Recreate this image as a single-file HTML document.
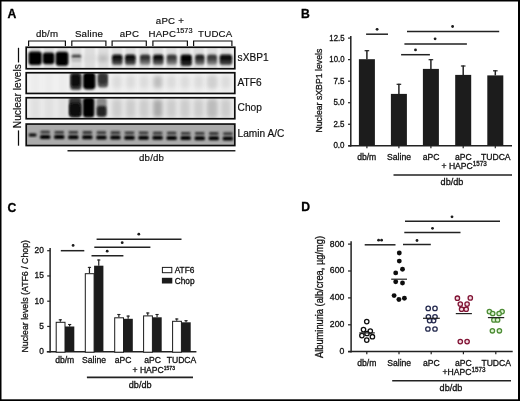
<!DOCTYPE html>
<html><head><meta charset="utf-8"><style>
html,body{margin:0;padding:0;background:#fff;}
svg{display:block;}
text{font-family:"Liberation Sans",sans-serif;stroke:#111;stroke-width:0.3px;}
</style></head><body>
<svg width="520" height="401" viewBox="0 0 520 401" font-family="Liberation Sans, sans-serif">
<rect width="520" height="401" fill="#fff"/>
<g filter="url(#soft)">
<rect width="520" height="401" fill="#fff"/>
<rect x="0" y="0" width="520" height="1.5" fill="#000" stroke="none" stroke-width="0" />
<rect x="0" y="0" width="1.5" height="401" fill="#000" stroke="none" stroke-width="0" />
<rect x="518" y="0" width="2" height="401" fill="#000" stroke="none" stroke-width="0" />
<rect x="0" y="399.3" width="520" height="1.7" fill="#000" stroke="none" stroke-width="0" />
<text x="7.6" y="17.8" font-size="12.2" text-anchor="start" font-weight="bold" fill="#000" style="stroke-width:0.3px;stroke:#000">A</text>
<text x="301.0" y="17.8" font-size="12.2" text-anchor="start" font-weight="bold" fill="#000" style="stroke-width:0.3px;stroke:#000">B</text>
<text x="7.5" y="211.5" font-size="12.2" text-anchor="start" font-weight="bold" fill="#000" style="stroke-width:0.3px;stroke:#000">C</text>
<text x="301.3" y="211.2" font-size="12.2" text-anchor="start" font-weight="bold" fill="#000" style="stroke-width:0.3px;stroke:#000">D</text>
<defs>
<filter id="b1" x="-50%" y="-50%" width="200%" height="200%"><feGaussianBlur stdDeviation="1.3"/></filter>
<filter id="b2" x="-50%" y="-50%" width="200%" height="200%"><feGaussianBlur stdDeviation="0.8"/></filter>
<filter id="b4" x="-50%" y="-50%" width="200%" height="200%"><feGaussianBlur stdDeviation="0.6"/></filter>
<filter id="b3" x="-50%" y="-50%" width="200%" height="200%"><feGaussianBlur stdDeviation="2"/></filter>
<filter id="soft" x="0" y="0" width="100%" height="100%"><feGaussianBlur stdDeviation="0.3"/></filter>
<clipPath id="c0"><rect x="26.2" y="47.25" width="208.6" height="21.5"/></clipPath>
<clipPath id="c1"><rect x="26.2" y="72.75" width="208.6" height="20.700000000000003"/></clipPath>
<clipPath id="c2"><rect x="26.2" y="97.75" width="208.6" height="21.0"/></clipPath>
<clipPath id="c3"><rect x="26.2" y="124.05" width="208.6" height="21.500000000000014"/></clipPath>
</defs>
<rect x="26.2" y="47.25" width="208.6" height="21.5" fill="#f1f1f1" stroke="none" stroke-width="0" />
<g clip-path="url(#c0)">
<rect x="30.2" y="47" width="10.400000000000002" height="22" rx="0" fill="#dddddd" filter="url(#b1)"/>
<rect x="43.8" y="47" width="10.400000000000006" height="22" rx="0" fill="#dddddd" filter="url(#b1)"/>
<rect x="57.39999999999999" y="47" width="10.400000000000006" height="22" rx="0" fill="#dddddd" filter="url(#b1)"/>
<rect x="70.99999999999999" y="47" width="10.400000000000006" height="22" rx="0" fill="#dddddd" filter="url(#b1)"/>
<rect x="84.6" y="47" width="10.400000000000006" height="22" rx="0" fill="#dddddd" filter="url(#b1)"/>
<rect x="98.2" y="47" width="10.400000000000006" height="22" rx="0" fill="#dddddd" filter="url(#b1)"/>
<rect x="111.8" y="47" width="10.400000000000006" height="22" rx="0" fill="#dddddd" filter="url(#b1)"/>
<rect x="125.39999999999999" y="47" width="10.399999999999991" height="22" rx="0" fill="#dddddd" filter="url(#b1)"/>
<rect x="139.0" y="47" width="10.399999999999977" height="22" rx="0" fill="#dddddd" filter="url(#b1)"/>
<rect x="152.6" y="47" width="10.399999999999977" height="22" rx="0" fill="#dddddd" filter="url(#b1)"/>
<rect x="166.20000000000002" y="47" width="10.399999999999977" height="22" rx="0" fill="#dddddd" filter="url(#b1)"/>
<rect x="179.8" y="47" width="10.399999999999977" height="22" rx="0" fill="#dddddd" filter="url(#b1)"/>
<rect x="193.4" y="47" width="10.399999999999977" height="22" rx="0" fill="#dddddd" filter="url(#b1)"/>
<rect x="207.0" y="47" width="10.399999999999977" height="22" rx="0" fill="#dddddd" filter="url(#b1)"/>
<rect x="220.60000000000002" y="47" width="10.399999999999977" height="22" rx="0" fill="#dddddd" filter="url(#b1)"/>
<rect x="28.5" y="51.6" width="13.299999999999997" height="13.399999999999999" rx="3" fill="#000" filter="url(#b2)"/>
<rect x="42.7" y="52.6" width="11.699999999999996" height="11.600000000000001" rx="3" fill="#000" filter="url(#b2)"/>
<rect x="55.6" y="51.8" width="12.800000000000004" height="14.0" rx="3" fill="#000" filter="url(#b2)"/>
<rect x="71.6" y="54.6" width="9.600000000000009" height="3.6999999999999957" rx="1.5" fill="#4a4a4a" filter="url(#b2)"/>
<rect x="71.6" y="58.3" width="9.600000000000009" height="3.700000000000003" rx="1.5" fill="#bdbdbd" filter="url(#b2)"/>
<rect x="84.5" y="55.0" width="10.0" height="7.0" rx="1.5" fill="#d8d8d8" filter="url(#b3)"/>
<rect x="98.4" y="55.0" width="9.199999999999989" height="7.0" rx="1.5" fill="#bcbcbc" filter="url(#b3)"/>
<linearGradient id="g0" x1="0" y1="0" x2="0" y2="1"><stop offset="0" stop-color="#0a0a0a"/><stop offset="0.4" stop-color="#0a0a0a"/><stop offset="1" stop-color="#666"/></linearGradient>
<rect x="112.0" y="54.4" width="10.5" height="10.600000000000001" rx="2.5" fill="url(#g0)" filter="url(#b2)"/>
<linearGradient id="g1" x1="0" y1="0" x2="0" y2="1"><stop offset="0" stop-color="#0a0a0a"/><stop offset="0.4" stop-color="#0a0a0a"/><stop offset="1" stop-color="#666"/></linearGradient>
<rect x="125.0" y="54.4" width="10.599999999999994" height="10.600000000000001" rx="2.5" fill="url(#g1)" filter="url(#b2)"/>
<linearGradient id="g2" x1="0" y1="0" x2="0" y2="1"><stop offset="0" stop-color="#333"/><stop offset="0.4" stop-color="#333"/><stop offset="1" stop-color="#999"/></linearGradient>
<rect x="140.0" y="54.4" width="10.300000000000011" height="10.600000000000001" rx="2.5" fill="url(#g2)" filter="url(#b2)"/>
<linearGradient id="g3" x1="0" y1="0" x2="0" y2="1"><stop offset="0" stop-color="#111"/><stop offset="0.4" stop-color="#111"/><stop offset="1" stop-color="#777"/></linearGradient>
<rect x="153.0" y="54.4" width="10.5" height="10.600000000000001" rx="2.5" fill="url(#g3)" filter="url(#b2)"/>
<linearGradient id="g4" x1="0" y1="0" x2="0" y2="1"><stop offset="0" stop-color="#3a3a3a"/><stop offset="0.4" stop-color="#3a3a3a"/><stop offset="1" stop-color="#9a9a9a"/></linearGradient>
<rect x="166.7" y="54.4" width="10.100000000000023" height="10.600000000000001" rx="2.5" fill="url(#g4)" filter="url(#b2)"/>
<linearGradient id="g5" x1="0" y1="0" x2="0" y2="1"><stop offset="0" stop-color="#000"/><stop offset="0.4" stop-color="#000"/><stop offset="1" stop-color="#333"/></linearGradient>
<rect x="180.6" y="54.4" width="11.300000000000011" height="11.600000000000001" rx="2.5" fill="url(#g5)" filter="url(#b2)"/>
<linearGradient id="g6" x1="0" y1="0" x2="0" y2="1"><stop offset="0" stop-color="#222"/><stop offset="0.4" stop-color="#222"/><stop offset="1" stop-color="#888"/></linearGradient>
<rect x="195.2" y="54.4" width="9.300000000000011" height="10.600000000000001" rx="2.5" fill="url(#g6)" filter="url(#b2)"/>
<linearGradient id="g7" x1="0" y1="0" x2="0" y2="1"><stop offset="0" stop-color="#3c3c3c"/><stop offset="0.4" stop-color="#3c3c3c"/><stop offset="1" stop-color="#999"/></linearGradient>
<rect x="207.0" y="54.4" width="10.0" height="10.600000000000001" rx="2.5" fill="url(#g7)" filter="url(#b2)"/>
<linearGradient id="g8" x1="0" y1="0" x2="0" y2="1"><stop offset="0" stop-color="#0a0a0a"/><stop offset="0.4" stop-color="#0a0a0a"/><stop offset="1" stop-color="#555"/></linearGradient>
<rect x="219.6" y="54.4" width="12.599999999999994" height="10.600000000000001" rx="2.5" fill="url(#g8)" filter="url(#b2)"/>
</g>
<rect x="26.2" y="47.25" width="208.6" height="21.5" fill="none" stroke="#111" stroke-width="1.7"/>
<rect x="26.2" y="72.75" width="208.6" height="20.700000000000003" fill="#f3f3f3" stroke="none" stroke-width="0" />
<g clip-path="url(#c1)">
<rect x="30.4" y="72" width="10.0" height="22" rx="0" fill="#ececec" filter="url(#b3)"/>
<rect x="44.0" y="72" width="10.0" height="22" rx="0" fill="#ececec" filter="url(#b3)"/>
<rect x="57.599999999999994" y="72" width="10.0" height="22" rx="0" fill="#ececec" filter="url(#b3)"/>
<rect x="71.19999999999999" y="72" width="10.0" height="22" rx="0" fill="#ececec" filter="url(#b3)"/>
<rect x="84.8" y="72" width="10.0" height="22" rx="0" fill="#ececec" filter="url(#b3)"/>
<rect x="98.4" y="72" width="10.0" height="22" rx="0" fill="#ececec" filter="url(#b3)"/>
<rect x="112.0" y="72" width="10.0" height="22" rx="0" fill="#ececec" filter="url(#b3)"/>
<rect x="125.6" y="72" width="10.0" height="22" rx="0" fill="#ececec" filter="url(#b3)"/>
<rect x="139.2" y="72" width="10.0" height="22" rx="0" fill="#ececec" filter="url(#b3)"/>
<rect x="152.79999999999998" y="72" width="10.0" height="22" rx="0" fill="#ececec" filter="url(#b3)"/>
<rect x="166.4" y="72" width="10.0" height="22" rx="0" fill="#ececec" filter="url(#b3)"/>
<rect x="180.0" y="72" width="10.0" height="22" rx="0" fill="#ececec" filter="url(#b3)"/>
<rect x="193.6" y="72" width="10.0" height="22" rx="0" fill="#ececec" filter="url(#b3)"/>
<rect x="207.2" y="72" width="10.0" height="22" rx="0" fill="#ececec" filter="url(#b3)"/>
<rect x="220.8" y="72" width="10.0" height="22" rx="0" fill="#ececec" filter="url(#b3)"/>
<rect x="70.2" y="72.5" width="11.299999999999997" height="17.5" rx="3" fill="#444" filter="url(#b1)"/>
<rect x="71.0" y="74.0" width="9.5" height="13.0" rx="3" fill="#111" filter="url(#b1)"/>
<rect x="83.0" y="72.5" width="12.5" height="17.099999999999994" rx="4" fill="#000" filter="url(#b1)"/>
<rect x="97.7" y="72.5" width="10.299999999999997" height="15.0" rx="3" fill="#555" filter="url(#b1)"/>
<rect x="98.5" y="74.0" width="8.5" height="10.0" rx="3" fill="#333" filter="url(#b1)"/>
<rect x="112.5" y="76" width="9.0" height="12" rx="2" fill="#dcdcdc" filter="url(#b3)"/>
<rect x="126.1" y="76" width="9.0" height="12" rx="2" fill="#dcdcdc" filter="url(#b3)"/>
<rect x="139.7" y="76" width="9.0" height="12" rx="2" fill="#dcdcdc" filter="url(#b3)"/>
<rect x="166.9" y="76" width="9.0" height="12" rx="2" fill="#dcdcdc" filter="url(#b3)"/>
<rect x="180.5" y="76" width="9.0" height="12" rx="2" fill="#dcdcdc" filter="url(#b3)"/>
<rect x="194.1" y="76" width="9.0" height="12" rx="2" fill="#dcdcdc" filter="url(#b3)"/>
<rect x="207.7" y="76" width="9.0" height="12" rx="2" fill="#dcdcdc" filter="url(#b3)"/>
<rect x="221.3" y="76" width="9.0" height="12" rx="2" fill="#dcdcdc" filter="url(#b3)"/>
<rect x="153.29999999999998" y="76" width="9.0" height="12" rx="2" fill="#bdbdbd" filter="url(#b3)"/>
<rect x="207.7" y="76" width="9.0" height="12" rx="2" fill="#d0d0d0" filter="url(#b3)"/>
</g>
<rect x="26.2" y="72.75" width="208.6" height="20.700000000000003" fill="none" stroke="#111" stroke-width="1.7"/>
<rect x="26.2" y="97.75" width="208.6" height="21.0" fill="#eeeeee" stroke="none" stroke-width="0" />
<g clip-path="url(#c2)">
<rect x="30.4" y="97" width="10.0" height="22" rx="0" fill="#e0e0e0" filter="url(#b3)"/>
<rect x="44.0" y="97" width="10.0" height="22" rx="0" fill="#e0e0e0" filter="url(#b3)"/>
<rect x="57.599999999999994" y="97" width="10.0" height="22" rx="0" fill="#e0e0e0" filter="url(#b3)"/>
<rect x="71.19999999999999" y="97" width="10.0" height="22" rx="0" fill="#e0e0e0" filter="url(#b3)"/>
<rect x="84.8" y="97" width="10.0" height="22" rx="0" fill="#e0e0e0" filter="url(#b3)"/>
<rect x="98.4" y="97" width="10.0" height="22" rx="0" fill="#e0e0e0" filter="url(#b3)"/>
<rect x="112.0" y="97" width="10.0" height="22" rx="0" fill="#e0e0e0" filter="url(#b3)"/>
<rect x="125.6" y="97" width="10.0" height="22" rx="0" fill="#e0e0e0" filter="url(#b3)"/>
<rect x="139.2" y="97" width="10.0" height="22" rx="0" fill="#e0e0e0" filter="url(#b3)"/>
<rect x="152.79999999999998" y="97" width="10.0" height="22" rx="0" fill="#e0e0e0" filter="url(#b3)"/>
<rect x="166.4" y="97" width="10.0" height="22" rx="0" fill="#e0e0e0" filter="url(#b3)"/>
<rect x="180.0" y="97" width="10.0" height="22" rx="0" fill="#e0e0e0" filter="url(#b3)"/>
<rect x="193.6" y="97" width="10.0" height="22" rx="0" fill="#e0e0e0" filter="url(#b3)"/>
<rect x="207.2" y="97" width="10.0" height="22" rx="0" fill="#e0e0e0" filter="url(#b3)"/>
<rect x="220.8" y="97" width="10.0" height="22" rx="0" fill="#e0e0e0" filter="url(#b3)"/>
<rect x="69.0" y="97.5" width="12.5" height="19.5" rx="3" fill="#333" filter="url(#b1)"/>
<rect x="69.5" y="103.0" width="11.5" height="13.5" rx="3" fill="#080808" filter="url(#b1)"/>
<rect x="82.8" y="97.5" width="11.600000000000009" height="20.0" rx="3.5" fill="#000" filter="url(#b1)"/>
<rect x="96.4" y="98.0" width="10.299999999999997" height="19.0" rx="3" fill="#8a8a8a" filter="url(#b1)"/>
<rect x="96.8" y="106.0" width="9.5" height="10.5" rx="3" fill="#222" filter="url(#b1)"/>
<rect x="112.5" y="100" width="9.0" height="17" rx="2" fill="#cccccc" filter="url(#b3)"/>
<rect x="126.1" y="100" width="9.0" height="17" rx="2" fill="#cccccc" filter="url(#b3)"/>
<rect x="139.7" y="100" width="9.0" height="17" rx="2" fill="#cccccc" filter="url(#b3)"/>
<rect x="166.9" y="100" width="9.0" height="17" rx="2" fill="#cccccc" filter="url(#b3)"/>
<rect x="180.5" y="100" width="9.0" height="17" rx="2" fill="#cccccc" filter="url(#b3)"/>
<rect x="194.1" y="100" width="9.0" height="17" rx="2" fill="#cccccc" filter="url(#b3)"/>
<rect x="207.7" y="100" width="9.0" height="17" rx="2" fill="#cccccc" filter="url(#b3)"/>
<rect x="221.3" y="100" width="9.0" height="17" rx="2" fill="#cccccc" filter="url(#b3)"/>
<rect x="153.29999999999998" y="100" width="9.0" height="17" rx="2" fill="#aaaaaa" filter="url(#b3)"/>
<rect x="207.7" y="100" width="9.0" height="17" rx="2" fill="#bbbbbb" filter="url(#b3)"/>
</g>
<rect x="26.2" y="97.75" width="208.6" height="21.0" fill="none" stroke="#111" stroke-width="1.7"/>
<rect x="26.2" y="124.05" width="208.6" height="21.500000000000014" fill="#ababab" stroke="none" stroke-width="0" />
<g clip-path="url(#c3)">
<rect x="28.8" y="133.4" width="7.599999999999998" height="3.0" rx="1" fill="#000" filter="url(#b2)"/>
<rect x="40.400000000000006" y="130.8" width="9.599999999999994" height="2.8000000000000114" rx="1" fill="#333" filter="url(#b2)"/>
<rect x="40.0" y="135.0" width="10.400000000000006" height="4.0" rx="1.5" fill="#000" filter="url(#b2)"/>
<rect x="54.45" y="130.90769230769232" width="9.599999999999994" height="2.8000000000000114" rx="1" fill="#333" filter="url(#b2)"/>
<rect x="54.05" y="135.1076923076923" width="10.400000000000006" height="4.0" rx="1.5" fill="#000" filter="url(#b2)"/>
<rect x="68.50000000000001" y="131.01538461538462" width="9.599999999999994" height="2.8000000000000114" rx="1" fill="#333" filter="url(#b2)"/>
<rect x="68.10000000000001" y="135.2153846153846" width="10.400000000000006" height="4.0" rx="1.5" fill="#000" filter="url(#b2)"/>
<rect x="82.55000000000001" y="131.12307692307692" width="9.599999999999994" height="2.8000000000000114" rx="1" fill="#333" filter="url(#b2)"/>
<rect x="82.15" y="135.3230769230769" width="10.400000000000006" height="4.0" rx="1.5" fill="#000" filter="url(#b2)"/>
<rect x="96.60000000000001" y="131.23076923076925" width="9.599999999999994" height="2.8000000000000114" rx="1" fill="#333" filter="url(#b2)"/>
<rect x="96.2" y="135.43076923076924" width="10.400000000000006" height="4.0" rx="1.5" fill="#000" filter="url(#b2)"/>
<rect x="110.65" y="131.33846153846156" width="9.599999999999994" height="2.8000000000000114" rx="1" fill="#333" filter="url(#b2)"/>
<rect x="110.25" y="135.53846153846155" width="10.400000000000006" height="4.0" rx="1.5" fill="#000" filter="url(#b2)"/>
<rect x="124.7" y="131.44615384615386" width="9.600000000000009" height="2.8000000000000114" rx="1" fill="#333" filter="url(#b2)"/>
<rect x="124.3" y="135.64615384615385" width="10.399999999999991" height="4.0" rx="1.5" fill="#000" filter="url(#b2)"/>
<rect x="138.75" y="131.55384615384617" width="9.600000000000023" height="2.8000000000000114" rx="1" fill="#333" filter="url(#b2)"/>
<rect x="138.35000000000002" y="135.75384615384615" width="10.399999999999977" height="4.0" rx="1.5" fill="#000" filter="url(#b2)"/>
<rect x="152.8" y="131.66153846153847" width="9.600000000000023" height="2.8000000000000114" rx="1" fill="#333" filter="url(#b2)"/>
<rect x="152.40000000000003" y="135.86153846153846" width="10.399999999999977" height="4.0" rx="1.5" fill="#000" filter="url(#b2)"/>
<rect x="166.85" y="131.76923076923077" width="9.600000000000023" height="2.8000000000000114" rx="1" fill="#333" filter="url(#b2)"/>
<rect x="166.45000000000002" y="135.96923076923076" width="10.399999999999977" height="4.0" rx="1.5" fill="#000" filter="url(#b2)"/>
<rect x="180.89999999999998" y="131.87692307692308" width="9.600000000000023" height="2.8000000000000114" rx="1" fill="#333" filter="url(#b2)"/>
<rect x="180.5" y="136.07692307692307" width="10.399999999999977" height="4.0" rx="1.5" fill="#000" filter="url(#b2)"/>
<rect x="194.95" y="131.9846153846154" width="9.600000000000023" height="2.8000000000000114" rx="1" fill="#333" filter="url(#b2)"/>
<rect x="194.55" y="136.1846153846154" width="10.399999999999977" height="4.0" rx="1.5" fill="#000" filter="url(#b2)"/>
<rect x="209.0" y="132.0923076923077" width="9.600000000000023" height="2.8000000000000114" rx="1" fill="#333" filter="url(#b2)"/>
<rect x="208.60000000000002" y="136.2923076923077" width="10.399999999999977" height="4.0" rx="1.5" fill="#000" filter="url(#b2)"/>
<rect x="223.05" y="132.20000000000002" width="9.600000000000023" height="2.8000000000000114" rx="1" fill="#333" filter="url(#b2)"/>
<rect x="222.65000000000003" y="136.4" width="10.399999999999977" height="4.0" rx="1.5" fill="#000" filter="url(#b2)"/>
</g>
<rect x="26.2" y="124.05" width="208.6" height="21.500000000000014" fill="none" stroke="#111" stroke-width="1.7"/>
<polyline points="28.6,46 28.6,41 65.4,41 65.4,46" fill="none" stroke="#111" stroke-width="1.2"/>
<polyline points="71.8,46 71.8,41 105.9,41 105.9,46" fill="none" stroke="#111" stroke-width="1.2"/>
<polyline points="112.1,46 112.1,41 146.3,41 146.3,46" fill="none" stroke="#111" stroke-width="1.2"/>
<polyline points="152.9,46 152.9,41 187.4,41 187.4,46" fill="none" stroke="#111" stroke-width="1.2"/>
<polyline points="193.6,46 193.6,41 231.9,41 231.9,46" fill="none" stroke="#111" stroke-width="1.2"/>
<text x="47.1" y="36.5" font-size="9.7" text-anchor="middle" font-weight="normal" fill="#111" letter-spacing="0.2" style="stroke-width:0.18px">db/m</text>
<text x="89.0" y="36.5" font-size="9.7" text-anchor="middle" font-weight="normal" fill="#111" letter-spacing="0.2" style="stroke-width:0.18px">Saline</text>
<text x="129.5" y="36.5" font-size="9.7" text-anchor="middle" font-weight="normal" fill="#111" letter-spacing="0.2" style="stroke-width:0.18px">aPC</text>
<text x="169.9" y="24.4" font-size="9.7" text-anchor="middle" font-weight="normal" fill="#111" letter-spacing="0.2" style="stroke-width:0.18px">aPC +</text>
<text x="148.5" y="36.5" font-size="9.7" fill="#111" letter-spacing="0.2" style="stroke-width:0.18px">HAPC<tspan font-size="7.3" dy="-3.1" letter-spacing="0">1573</tspan></text>
<text x="215.3" y="36.5" font-size="9.7" text-anchor="middle" font-weight="normal" fill="#111" letter-spacing="0.2" style="stroke-width:0.18px">TUDCA</text>
<text x="237.6" y="61.0" font-size="10.15" text-anchor="start" font-weight="normal" fill="#111" style="stroke-width:0.18px">sXBP1</text>
<text x="237.6" y="86.2" font-size="10.15" text-anchor="start" font-weight="normal" fill="#111" style="stroke-width:0.18px">ATF6</text>
<text x="237.6" y="110.9" font-size="10.15" text-anchor="start" font-weight="normal" fill="#111" style="stroke-width:0.18px">Chop</text>
<text x="237.6" y="137.3" font-size="10.15" text-anchor="start" font-weight="normal" fill="#111" style="stroke-width:0.18px">Lamin A/C</text>
<line x1="67.5" y1="150.8" x2="235.4" y2="150.8" stroke="#222" stroke-width="1.5"/>
<text x="151.6" y="161.4" font-size="9.7" text-anchor="middle" font-weight="normal" fill="#111" letter-spacing="0.2" style="stroke-width:0.18px">db/db</text>
<line x1="18.5" y1="47.8" x2="18.5" y2="62.5" stroke="#111" stroke-width="1.25"/>
<line x1="18.5" y1="130.4" x2="18.5" y2="145.7" stroke="#111" stroke-width="1.25"/>
<text transform="translate(20.6,96.2) rotate(-90)" font-size="10.2" text-anchor="middle" fill="#111" style="stroke-width:0.18px">Nuclear levels</text>
<line x1="350.8" y1="36" x2="350.8" y2="146.5" stroke="#222" stroke-width="1.5"/>
<line x1="348.3" y1="145.8" x2="512" y2="145.8" stroke="#222" stroke-width="1.5"/>
<line x1="348" y1="145.8" x2="351" y2="145.8" stroke="#222" stroke-width="1.2"/>
<text x="344.5" y="148.3" font-size="8.4" text-anchor="end" font-weight="normal" fill="#111" textLength="11.1" lengthAdjust="spacingAndGlyphs">0.0</text>
<line x1="348" y1="124.26000000000002" x2="351" y2="124.26000000000002" stroke="#222" stroke-width="1.2"/>
<text x="344.5" y="126.76000000000002" font-size="8.4" text-anchor="end" font-weight="normal" fill="#111" textLength="11.1" lengthAdjust="spacingAndGlyphs">2.5</text>
<line x1="348" y1="102.72000000000001" x2="351" y2="102.72000000000001" stroke="#222" stroke-width="1.2"/>
<text x="344.5" y="105.22000000000001" font-size="8.4" text-anchor="end" font-weight="normal" fill="#111" textLength="11.1" lengthAdjust="spacingAndGlyphs">5.0</text>
<line x1="348" y1="81.18" x2="351" y2="81.18" stroke="#222" stroke-width="1.2"/>
<text x="344.5" y="83.68" font-size="8.4" text-anchor="end" font-weight="normal" fill="#111" textLength="11.1" lengthAdjust="spacingAndGlyphs">7.5</text>
<line x1="348" y1="59.640000000000015" x2="351" y2="59.640000000000015" stroke="#222" stroke-width="1.2"/>
<text x="344.5" y="62.140000000000015" font-size="8.4" text-anchor="end" font-weight="normal" fill="#111" textLength="15.2" lengthAdjust="spacingAndGlyphs">10.0</text>
<line x1="348" y1="38.10000000000002" x2="351" y2="38.10000000000002" stroke="#222" stroke-width="1.2"/>
<text x="344.5" y="40.60000000000002" font-size="8.4" text-anchor="end" font-weight="normal" fill="#111" textLength="15.2" lengthAdjust="spacingAndGlyphs">12.5</text>
<line x1="366.9" y1="50.2" x2="366.9" y2="59.2" stroke="#222" stroke-width="1.5"/>
<line x1="364.59999999999997" y1="50.7" x2="369.2" y2="50.7" stroke="#222" stroke-width="1.2"/>
<rect x="358.9" y="59.2" width="16" height="86.60000000000001" fill="#1a1a1a" stroke="none" stroke-width="0" />
<line x1="366.9" y1="145.8" x2="366.9" y2="148.2" stroke="#222" stroke-width="1.2"/>
<line x1="398.9" y1="83.8" x2="398.9" y2="93.9" stroke="#222" stroke-width="1.5"/>
<line x1="396.59999999999997" y1="84.3" x2="401.2" y2="84.3" stroke="#222" stroke-width="1.2"/>
<rect x="390.9" y="93.9" width="16" height="51.900000000000006" fill="#1a1a1a" stroke="none" stroke-width="0" />
<line x1="398.9" y1="145.8" x2="398.9" y2="148.2" stroke="#222" stroke-width="1.2"/>
<line x1="430.9" y1="59.2" x2="430.9" y2="68.9" stroke="#222" stroke-width="1.5"/>
<line x1="428.59999999999997" y1="59.7" x2="433.2" y2="59.7" stroke="#222" stroke-width="1.2"/>
<rect x="422.9" y="68.9" width="16" height="76.9" fill="#1a1a1a" stroke="none" stroke-width="0" />
<line x1="430.9" y1="145.8" x2="430.9" y2="148.2" stroke="#222" stroke-width="1.2"/>
<line x1="463.2" y1="65.5" x2="463.2" y2="74.9" stroke="#222" stroke-width="1.5"/>
<line x1="460.9" y1="66.0" x2="465.5" y2="66.0" stroke="#222" stroke-width="1.2"/>
<rect x="455.2" y="74.9" width="16" height="70.9" fill="#1a1a1a" stroke="none" stroke-width="0" />
<line x1="463.2" y1="145.8" x2="463.2" y2="148.2" stroke="#222" stroke-width="1.2"/>
<line x1="495.3" y1="70.3" x2="495.3" y2="75.4" stroke="#222" stroke-width="1.5"/>
<line x1="493.0" y1="70.8" x2="497.6" y2="70.8" stroke="#222" stroke-width="1.2"/>
<rect x="487.3" y="75.4" width="16" height="70.4" fill="#1a1a1a" stroke="none" stroke-width="0" />
<line x1="495.3" y1="145.8" x2="495.3" y2="148.2" stroke="#222" stroke-width="1.2"/>
<text x="366.7" y="159.6" font-size="8.6" text-anchor="middle" font-weight="normal" fill="#111" >db/m</text>
<text x="399" y="159.6" font-size="8.6" text-anchor="middle" font-weight="normal" fill="#111" >Saline</text>
<text x="431" y="159.6" font-size="8.6" text-anchor="middle" font-weight="normal" fill="#111" >aPC</text>
<text x="463.4" y="159.6" font-size="8.6" text-anchor="middle" font-weight="normal" fill="#111" >aPC</text>
<text x="495.8" y="159.6" font-size="8.6" text-anchor="middle" font-weight="normal" fill="#111" >TUDCA</text>
<text x="441.5" y="169.4" font-size="8.6" fill="#111">+ HAPC<tspan font-size="6.3" dy="-3">1573</tspan></text>
<line x1="393.5" y1="175" x2="512" y2="175" stroke="#222" stroke-width="1.7"/>
<text x="452" y="185.2" font-size="9.1" text-anchor="middle" font-weight="normal" fill="#111" >db/db</text>
<text transform="translate(322,90.6) rotate(-90)" font-size="9.8" text-anchor="middle" fill="#111" textLength="84" lengthAdjust="spacingAndGlyphs">Nuclear sXBP1 levels</text>
<line x1="366.1" y1="34.2" x2="388" y2="34.2" stroke="#222" stroke-width="1.5"/>
<circle cx="377.1" cy="29.3" r="1.4" fill="#1a1a1a"/>
<line x1="407" y1="31.4" x2="499.2" y2="31.4" stroke="#222" stroke-width="1.5"/>
<circle cx="452.6" cy="26.5" r="1.4" fill="#1a1a1a"/>
<line x1="404.4" y1="44" x2="466.9" y2="44" stroke="#222" stroke-width="1.5"/>
<circle cx="435.1" cy="38.8" r="1.4" fill="#1a1a1a"/>
<line x1="401.1" y1="54.7" x2="429.9" y2="54.7" stroke="#222" stroke-width="1.5"/>
<circle cx="415.5" cy="49.9" r="1.4" fill="#1a1a1a"/>
<line x1="50.1" y1="248" x2="50.1" y2="352.4" stroke="#222" stroke-width="1.5"/>
<line x1="46.8" y1="351.7" x2="196.4" y2="351.7" stroke="#222" stroke-width="1.5"/>
<line x1="47.2" y1="351.7" x2="50.2" y2="351.7" stroke="#222" stroke-width="1.2"/>
<text x="43.8" y="354.09999999999997" font-size="8.4" text-anchor="end" font-weight="normal" fill="#111" >0</text>
<line x1="47.2" y1="326.45" x2="50.2" y2="326.45" stroke="#222" stroke-width="1.2"/>
<text x="43.8" y="328.84999999999997" font-size="8.4" text-anchor="end" font-weight="normal" fill="#111" >5</text>
<line x1="47.2" y1="301.2" x2="50.2" y2="301.2" stroke="#222" stroke-width="1.2"/>
<text x="43.8" y="303.59999999999997" font-size="8.4" text-anchor="end" font-weight="normal" fill="#111" >10</text>
<line x1="47.2" y1="275.95" x2="50.2" y2="275.95" stroke="#222" stroke-width="1.2"/>
<text x="43.8" y="278.34999999999997" font-size="8.4" text-anchor="end" font-weight="normal" fill="#111" >15</text>
<line x1="47.2" y1="250.7" x2="50.2" y2="250.7" stroke="#222" stroke-width="1.2"/>
<text x="43.8" y="253.1" font-size="8.4" text-anchor="end" font-weight="normal" fill="#111" >20</text>
<line x1="60.35" y1="319.3" x2="60.35" y2="321.8" stroke="#222" stroke-width="1.2"/>
<line x1="58.75" y1="319.8" x2="61.95" y2="319.8" stroke="#222" stroke-width="1.1"/>
<line x1="69.65" y1="324.0" x2="69.65" y2="326.5" stroke="#222" stroke-width="1.2"/>
<line x1="68.05000000000001" y1="324.5" x2="71.25" y2="324.5" stroke="#222" stroke-width="1.1"/>
<rect x="56.2" y="322.3" width="8.8" height="29.899999999999977" fill="#fff" stroke="#1a1a1a" stroke-width="1" />
<rect x="65.0" y="326.5" width="9.3" height="25.19999999999999" fill="#1a1a1a" stroke="none" stroke-width="0" />
<line x1="89.44999999999999" y1="266.9" x2="89.44999999999999" y2="273.2" stroke="#222" stroke-width="1.2"/>
<line x1="87.85" y1="267.4" x2="91.04999999999998" y2="267.4" stroke="#222" stroke-width="1.1"/>
<line x1="98.75" y1="259.5" x2="98.75" y2="265.7" stroke="#222" stroke-width="1.2"/>
<line x1="97.15" y1="260.0" x2="100.35" y2="260.0" stroke="#222" stroke-width="1.1"/>
<rect x="85.3" y="273.7" width="8.8" height="78.5" fill="#fff" stroke="#1a1a1a" stroke-width="1" />
<rect x="94.1" y="265.7" width="9.3" height="86.0" fill="#1a1a1a" stroke="none" stroke-width="0" />
<line x1="118.85" y1="314.0" x2="118.85" y2="317.3" stroke="#222" stroke-width="1.2"/>
<line x1="117.25" y1="314.5" x2="120.44999999999999" y2="314.5" stroke="#222" stroke-width="1.1"/>
<line x1="128.15" y1="315.6" x2="128.15" y2="318.8" stroke="#222" stroke-width="1.2"/>
<line x1="126.55000000000001" y1="316.1" x2="129.75" y2="316.1" stroke="#222" stroke-width="1.1"/>
<rect x="114.7" y="317.8" width="8.8" height="34.39999999999998" fill="#fff" stroke="#1a1a1a" stroke-width="1" />
<rect x="123.5" y="318.8" width="9.3" height="32.89999999999998" fill="#1a1a1a" stroke="none" stroke-width="0" />
<line x1="147.75" y1="312.5" x2="147.75" y2="315.4" stroke="#222" stroke-width="1.2"/>
<line x1="146.15" y1="313.0" x2="149.35" y2="313.0" stroke="#222" stroke-width="1.1"/>
<line x1="157.05" y1="314.0" x2="157.05" y2="317.3" stroke="#222" stroke-width="1.2"/>
<line x1="155.45000000000002" y1="314.5" x2="158.65" y2="314.5" stroke="#222" stroke-width="1.1"/>
<rect x="143.6" y="315.9" width="8.8" height="36.30000000000001" fill="#fff" stroke="#1a1a1a" stroke-width="1" />
<rect x="152.4" y="317.3" width="9.3" height="34.39999999999998" fill="#1a1a1a" stroke="none" stroke-width="0" />
<line x1="176.75" y1="318.5" x2="176.75" y2="320.8" stroke="#222" stroke-width="1.2"/>
<line x1="175.15" y1="319.0" x2="178.35" y2="319.0" stroke="#222" stroke-width="1.1"/>
<line x1="186.05" y1="320.2" x2="186.05" y2="322.3" stroke="#222" stroke-width="1.2"/>
<line x1="184.45000000000002" y1="320.7" x2="187.65" y2="320.7" stroke="#222" stroke-width="1.1"/>
<rect x="172.6" y="321.3" width="8.8" height="30.899999999999977" fill="#fff" stroke="#1a1a1a" stroke-width="1" />
<rect x="181.4" y="322.3" width="9.3" height="29.399999999999977" fill="#1a1a1a" stroke="none" stroke-width="0" />
<rect x="162.4" y="267.4" width="9.4" height="5.3" fill="#fff" stroke="#1a1a1a" stroke-width="1" />
<rect x="161.9" y="277.8" width="10.4" height="5.7" fill="#1a1a1a" stroke="none" stroke-width="0" />
<text x="174.7" y="272.8" font-size="8.3" text-anchor="start" font-weight="normal" fill="#111" >ATF6</text>
<text x="174.7" y="283.5" font-size="8.3" text-anchor="start" font-weight="normal" fill="#111" >Chop</text>
<text x="64.7" y="362.9" font-size="8.6" text-anchor="middle" font-weight="normal" fill="#111" >db/m</text>
<text x="94" y="362.9" font-size="8.6" text-anchor="middle" font-weight="normal" fill="#111" >Saline</text>
<text x="123.2" y="362.9" font-size="8.6" text-anchor="middle" font-weight="normal" fill="#111" >aPC</text>
<text x="152.5" y="362.9" font-size="8.6" text-anchor="middle" font-weight="normal" fill="#111" >aPC</text>
<text x="181.5" y="362.9" font-size="8.6" text-anchor="middle" font-weight="normal" fill="#111" >TUDCA</text>
<text x="132.5" y="373.2" font-size="8.6" fill="#111">+ HAPC<tspan font-size="5" dy="-3">1573</tspan></text>
<line x1="86.9" y1="377.4" x2="193" y2="377.4" stroke="#222" stroke-width="1.6"/>
<text x="140.2" y="387.9" font-size="9.1" text-anchor="middle" font-weight="normal" fill="#111" >db/db</text>
<text transform="translate(28.3,296.3) rotate(-90)" font-size="9.7" text-anchor="middle" fill="#111" textLength="112.5" lengthAdjust="spacingAndGlyphs">Nuclear levels (ATF6 / Chop)</text>
<line x1="60.8" y1="250.7" x2="84.3" y2="250.7" stroke="#222" stroke-width="1.5"/>
<circle cx="73.1" cy="245.4" r="1.4" fill="#1a1a1a"/>
<line x1="96.6" y1="239.2" x2="181.5" y2="239.2" stroke="#222" stroke-width="1.5"/>
<circle cx="138.8" cy="234.2" r="1.4" fill="#1a1a1a"/>
<line x1="94.3" y1="247.3" x2="150.4" y2="247.3" stroke="#222" stroke-width="1.5"/>
<circle cx="122.2" cy="242.7" r="1.4" fill="#1a1a1a"/>
<line x1="91.5" y1="255.8" x2="123.4" y2="255.8" stroke="#222" stroke-width="1.5"/>
<circle cx="107.2" cy="251.2" r="1.4" fill="#1a1a1a"/>
<line x1="351.1" y1="241.2" x2="351.1" y2="352.4" stroke="#222" stroke-width="1.5"/>
<line x1="348.2" y1="351.6" x2="512.7" y2="351.6" stroke="#222" stroke-width="1.5"/>
<line x1="348" y1="351.7" x2="351" y2="351.7" stroke="#222" stroke-width="1.2"/>
<text x="344.3" y="354.09999999999997" font-size="8.7" text-anchor="end" font-weight="normal" fill="#111" >0</text>
<line x1="348" y1="324.8" x2="351" y2="324.8" stroke="#222" stroke-width="1.2"/>
<text x="344.3" y="327.2" font-size="8.7" text-anchor="end" font-weight="normal" fill="#111" >200</text>
<line x1="348" y1="297.9" x2="351" y2="297.9" stroke="#222" stroke-width="1.2"/>
<text x="344.3" y="300.29999999999995" font-size="8.7" text-anchor="end" font-weight="normal" fill="#111" >400</text>
<line x1="348" y1="271.0" x2="351" y2="271.0" stroke="#222" stroke-width="1.2"/>
<text x="344.3" y="273.4" font-size="8.7" text-anchor="end" font-weight="normal" fill="#111" >600</text>
<line x1="348" y1="244.09999999999997" x2="351" y2="244.09999999999997" stroke="#222" stroke-width="1.2"/>
<text x="344.3" y="246.49999999999997" font-size="8.7" text-anchor="end" font-weight="normal" fill="#111" >800</text>
<line x1="366.8" y1="351.6" x2="366.8" y2="354.3" stroke="#222" stroke-width="1.2"/>
<line x1="399" y1="351.6" x2="399" y2="354.3" stroke="#222" stroke-width="1.2"/>
<line x1="431.2" y1="351.6" x2="431.2" y2="354.3" stroke="#222" stroke-width="1.2"/>
<line x1="463.4" y1="351.6" x2="463.4" y2="354.3" stroke="#222" stroke-width="1.2"/>
<line x1="495.8" y1="351.6" x2="495.8" y2="354.3" stroke="#222" stroke-width="1.2"/>
<text x="366.8" y="365.9" font-size="8.6" text-anchor="middle" font-weight="normal" fill="#111" >db/m</text>
<text x="399.2" y="365.9" font-size="8.6" text-anchor="middle" font-weight="normal" fill="#111" >Saline</text>
<text x="431.3" y="365.9" font-size="8.6" text-anchor="middle" font-weight="normal" fill="#111" >aPC</text>
<text x="463.3" y="365.9" font-size="8.6" text-anchor="middle" font-weight="normal" fill="#111" >aPC</text>
<text x="496.2" y="365.9" font-size="8.6" text-anchor="middle" font-weight="normal" fill="#111" >TUDCA</text>
<text x="442.5" y="375.3" font-size="8.6" fill="#111">+HAPC<tspan font-size="6.3" dy="-3">1573</tspan></text>
<line x1="392.2" y1="380.8" x2="511" y2="380.8" stroke="#222" stroke-width="1.6"/>
<text x="451" y="391.4" font-size="9.1" text-anchor="middle" font-weight="normal" fill="#111" >db/db</text>
<text transform="translate(323.4,297) rotate(-90)" font-size="10" text-anchor="middle" fill="#111" textLength="122" lengthAdjust="spacingAndGlyphs">Albuminuria (alb/crea, µg/mg)</text>
<line x1="364.7" y1="244.8" x2="395.5" y2="244.8" stroke="#222" stroke-width="1.5"/>
<circle cx="378.6" cy="240.2" r="1.4" fill="#1a1a1a"/>
<circle cx="381.6" cy="240.2" r="1.4" fill="#1a1a1a"/>
<line x1="403" y1="244.5" x2="430.8" y2="244.5" stroke="#222" stroke-width="1.5"/>
<circle cx="417" cy="240.5" r="1.4" fill="#1a1a1a"/>
<line x1="404.3" y1="232.5" x2="460.5" y2="232.5" stroke="#222" stroke-width="1.5"/>
<circle cx="432.5" cy="228.3" r="1.4" fill="#1a1a1a"/>
<line x1="405" y1="221.3" x2="500" y2="221.3" stroke="#222" stroke-width="1.5"/>
<circle cx="452" cy="216.8" r="1.4" fill="#1a1a1a"/>
<circle cx="366.75" cy="321.6" r="2.2" fill="none" stroke="#111" stroke-width="1.3"/>
<circle cx="363.5" cy="329.6" r="2.2" fill="none" stroke="#111" stroke-width="1.3"/>
<circle cx="370.3" cy="331.1" r="2.2" fill="none" stroke="#111" stroke-width="1.3"/>
<circle cx="361.9" cy="335.6" r="2.2" fill="none" stroke="#111" stroke-width="1.3"/>
<circle cx="372.4" cy="336.7" r="2.2" fill="none" stroke="#111" stroke-width="1.3"/>
<circle cx="366.75" cy="340.1" r="2.2" fill="none" stroke="#111" stroke-width="1.3"/>
<circle cx="367" cy="333.5" r="2.2" fill="none" stroke="#111" stroke-width="1.3"/>
<line x1="359.3" y1="332.9" x2="374.8" y2="332.9" stroke="#222" stroke-width="1.2"/>
<circle cx="399.3" cy="253" r="2.45" fill="#111"/>
<circle cx="399.3" cy="261.1" r="2.45" fill="#111"/>
<circle cx="402.5" cy="269.2" r="2.45" fill="#111"/>
<circle cx="395.7" cy="272.9" r="2.45" fill="#111"/>
<circle cx="395.7" cy="281.8" r="2.45" fill="#111"/>
<circle cx="402.5" cy="283" r="2.45" fill="#111"/>
<circle cx="394.1" cy="295.6" r="2.45" fill="#111"/>
<circle cx="398.9" cy="299.5" r="2.45" fill="#111"/>
<circle cx="404.4" cy="298.3" r="2.45" fill="#111"/>
<line x1="391.2" y1="279.2" x2="407" y2="279.2" stroke="#222" stroke-width="1.2"/>
<circle cx="428.2" cy="308.4" r="2.2" fill="none" stroke="#252b4f" stroke-width="1.3"/>
<circle cx="435" cy="308.4" r="2.2" fill="none" stroke="#252b4f" stroke-width="1.3"/>
<circle cx="428.4" cy="316.8" r="2.2" fill="none" stroke="#252b4f" stroke-width="1.3"/>
<circle cx="435" cy="316.8" r="2.2" fill="none" stroke="#252b4f" stroke-width="1.3"/>
<circle cx="429.6" cy="320.6" r="2.2" fill="none" stroke="#252b4f" stroke-width="1.3"/>
<circle cx="433.6" cy="320.6" r="2.2" fill="none" stroke="#252b4f" stroke-width="1.3"/>
<circle cx="427.9" cy="329" r="2.2" fill="none" stroke="#252b4f" stroke-width="1.3"/>
<circle cx="435" cy="329" r="2.2" fill="none" stroke="#252b4f" stroke-width="1.3"/>
<line x1="423" y1="318.3" x2="439.8" y2="318.3" stroke="#222" stroke-width="1.2"/>
<circle cx="457.4" cy="298.2" r="2.2" fill="#f5dde4" stroke="#801334" stroke-width="1.3"/>
<circle cx="470.3" cy="297.9" r="2.2" fill="#f5dde4" stroke="#801334" stroke-width="1.3"/>
<circle cx="460.3" cy="304.1" r="2.2" fill="#f5dde4" stroke="#801334" stroke-width="1.3"/>
<circle cx="467.1" cy="304.1" r="2.2" fill="#f5dde4" stroke="#801334" stroke-width="1.3"/>
<circle cx="461.6" cy="309.2" r="2.2" fill="#f5dde4" stroke="#801334" stroke-width="1.3"/>
<circle cx="466.2" cy="309.2" r="2.2" fill="#f5dde4" stroke="#801334" stroke-width="1.3"/>
<circle cx="460.3" cy="341.6" r="2.2" fill="#f5dde4" stroke="#801334" stroke-width="1.3"/>
<circle cx="467.1" cy="341.6" r="2.2" fill="#f5dde4" stroke="#801334" stroke-width="1.3"/>
<line x1="455.8" y1="313.6" x2="471.9" y2="313.6" stroke="#222" stroke-width="1.2"/>
<circle cx="489.4" cy="311.6" r="2.2" fill="#dff5d5" stroke="#4d8c36" stroke-width="1.3"/>
<circle cx="492.7" cy="313.5" r="2.2" fill="#dff5d5" stroke="#4d8c36" stroke-width="1.3"/>
<circle cx="502.1" cy="311.6" r="2.2" fill="#dff5d5" stroke="#4d8c36" stroke-width="1.3"/>
<circle cx="499.1" cy="313.5" r="2.2" fill="#dff5d5" stroke="#4d8c36" stroke-width="1.3"/>
<circle cx="493.9" cy="319.9" r="2.2" fill="#dff5d5" stroke="#4d8c36" stroke-width="1.3"/>
<circle cx="497.6" cy="319.9" r="2.2" fill="#dff5d5" stroke="#4d8c36" stroke-width="1.3"/>
<circle cx="492.4" cy="330.8" r="2.2" fill="#dff5d5" stroke="#4d8c36" stroke-width="1.3"/>
<circle cx="499.4" cy="330.8" r="2.2" fill="#dff5d5" stroke="#4d8c36" stroke-width="1.3"/>
<line x1="487.9" y1="317.6" x2="504.2" y2="317.6" stroke="#222" stroke-width="1.2"/>
</g>
</svg>
</body></html>
